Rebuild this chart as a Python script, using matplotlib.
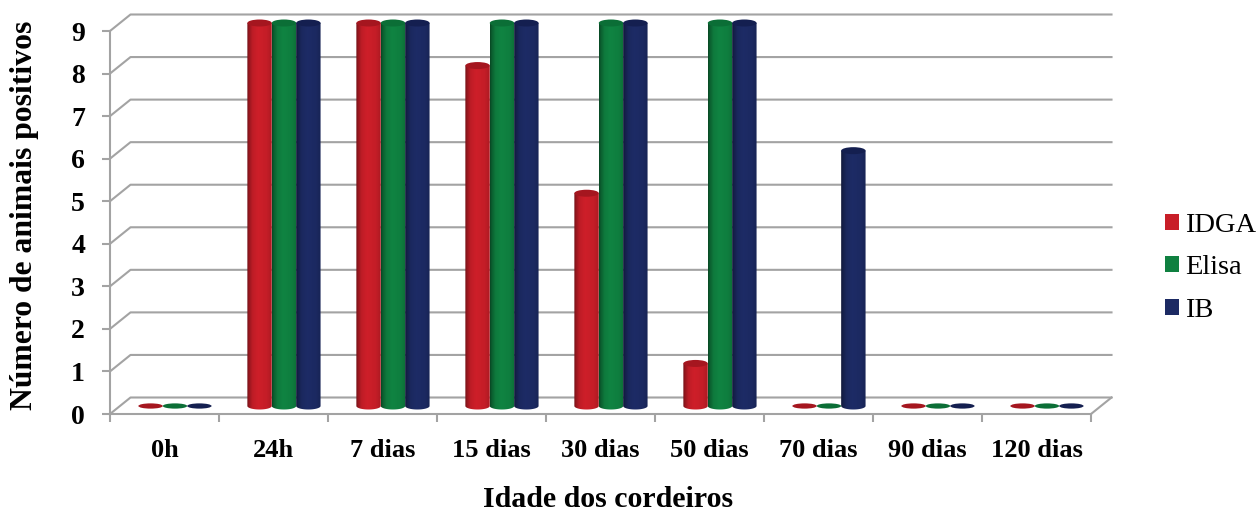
import numpy as np
import matplotlib
matplotlib.use("Agg")
import matplotlib.pyplot as plt
from matplotlib.patches import Ellipse, PathPatch, Patch
from matplotlib.path import Path

categories = ["0h", "24h", "7 dias", "15 dias", "30 dias", "50 dias", "70 dias", "90 dias", "120 dias"]
idga = [0, 9, 9, 8, 5, 1, 0, 0, 0]
elisa = [0, 9, 9, 9, 9, 9, 0, 0, 0]
ib = [0, 9, 9, 9, 9, 9, 6, 0, 0]
series_names = ["IDGA", "Elisa", "IB"]
colors = ["#C81E28", "#0F8040", "#1C2A63"]
top_colors = ["#A5161F", "#0B6E36", "#141F50"]

W, H = 1256, 511
plt.rcParams["font.family"] = ["Liberation Serif", "DejaVu Serif"]
fig = plt.figure(figsize=(W / 100, H / 100), dpi=100)
ax = fig.add_axes([110 / W, 1 - 414 / H, 981 / W, 383 / H])
ax.set_xlim(0, 9)
ax.set_ylim(0, 9)

GRID = "#A3A3A3"
dx = 20.5 / 109      # depth offset in category units
dy = 16.5 / (383 / 9)  # depth offset in value units

for v in range(10):
    ax.plot([0, dx, 9 + dx], [v, v + dy, v + dy], color=GRID, lw=1.5, clip_on=False, zorder=1)
ax.plot([9, 9 + dx], [0, dy], color=GRID, lw=1.5, clip_on=False, zorder=1)

bw = 24.4 / 109
base = 8 / (383 / 9)
eh = 7 / (383 / 9)
offs = [-bw, 0, bw]
prof = np.interp(np.linspace(0, 1, 64), [0, .06, .22, .45, .8, 1], [.55, .72, .95, 1.03, .98, .86])

def shade(hexcol):
    rgb = np.array(matplotlib.colors.to_rgb(hexcol))
    return np.clip(prof[None, :, None] * rgb[None, None, :], 0, 1)

for k, vals in enumerate([idga, elisa, ib]):
    for i, val in enumerate(vals):
        cx = i + 0.596 + offs[k]
        if val > 0:
            l, r = cx - bw / 2, cx + bw / 2
            top = val + base
            t = np.linspace(np.pi, 2 * np.pi, 40)
            xs = cx + bw / 2 * np.cos(t)
            ys = base + eh / 2 * np.sin(t)
            verts = list(zip(xs, ys)) + [(r, top), (l, top), (xs[0], ys[0])]
            clip = PathPatch(Path(verts), transform=ax.transData, fc="none", ec="none")
            ax.add_patch(clip)
            im = ax.imshow(shade(colors[k]), extent=[l, r, base - eh, top], aspect="auto",
                           zorder=3 + k * .01 + i, interpolation="bilinear", clip_on=True)
            im.set_clip_path(clip)
            im.set_clip_box(fig.bbox)
            ax.add_patch(Ellipse((cx, top), bw, eh, fc=top_colors[k], ec="none",
                                 zorder=3 + k * .01 + i + .001, clip_on=False))
        else:
            ax.add_patch(Ellipse((cx, base), bw, eh * .75, fc=top_colors[k], ec="none",
                                 zorder=3 + k * .01, clip_on=False))
ax.set_xlim(0, 9)
ax.set_ylim(0, 9)

for s in ["top", "right"]:
    ax.spines[s].set_visible(False)
for s in ["left", "bottom"]:
    ax.spines[s].set_color(GRID)
    ax.spines[s].set_linewidth(1.5)

ax.set_xticks(range(10))
ax.set_xticklabels([])
ax.set_xticks(np.arange(9) + .5, categories, minor=True, fontsize=19, fontweight="bold")
ax.tick_params(axis="x", which="major", length=6, width=1.5, color=GRID)
ax.tick_params(axis="x", which="minor", length=0, pad=18)
ax.set_yticks(range(10))
ax.set_yticklabels(range(10), fontsize=20, fontweight="bold")
ax.tick_params(axis="y", length=6, width=1.5, color=GRID, pad=12)

fig.text(608 / W, 1 - 499 / H, "Idade dos cordeiros", ha="center", va="center", fontsize=21.5, fontweight="bold")
fig.text(25 / W, 1 - 215 / H, "Número de animais positivos", rotation=90, ha="center", va="center",
         fontsize=22.8, fontweight="bold")

handles = [Patch(fc=c, ec="none") for c in colors]
fig.legend(handles, series_names, loc="upper left", bbox_to_anchor=(1165 / W, 1 - 213 / H), frameon=False,
           fontsize=20.5, handlelength=.49, handleheight=.49, handletextpad=.2, labelspacing=.61,
           borderpad=0, borderaxespad=0)
fig.savefig("out.png", dpi=100)
